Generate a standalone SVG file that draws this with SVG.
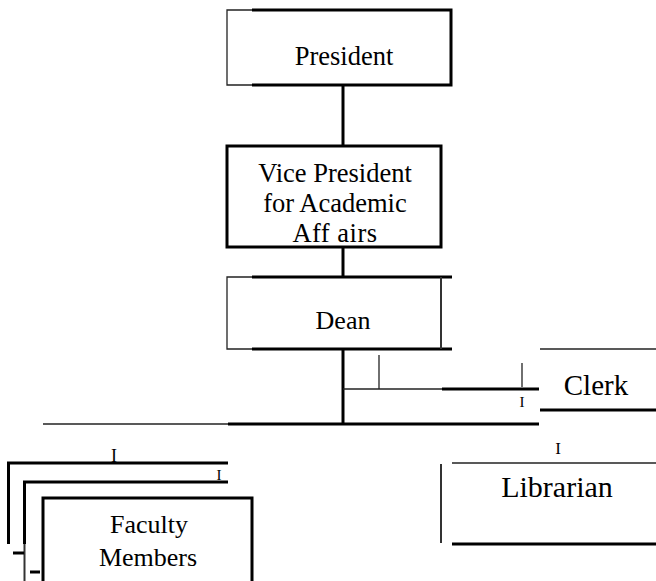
<svg xmlns="http://www.w3.org/2000/svg" width="656" height="581" viewBox="0 0 656 581">
<style>
.t{font-family:"Liberation Serif","Times New Roman",serif;fill:#000;text-anchor:middle}
.k{stroke:#000;stroke-width:3;fill:none}
.n{stroke:#222;stroke-width:1.3;fill:none}
.m{stroke:#333;stroke-width:2;fill:none}
.s{font-family:"Liberation Serif","Times New Roman",serif;fill:#000;text-anchor:middle}
</style>
<rect width="656" height="581" fill="#fff"/>
<g id="connectors">
<line class="k" x1="343" y1="85" x2="343" y2="146"/>
<line class="k" x1="343" y1="247" x2="343" y2="277"/>
<line class="k" x1="343" y1="349" x2="343" y2="424"/>
<line class="n" x1="379" y1="355" x2="379" y2="389"/>
<line class="n" x1="343" y1="389" x2="442" y2="389"/>
<line class="k" x1="442" y1="389" x2="539" y2="389"/>
<line class="n" x1="522" y1="363" x2="522" y2="387"/>
<line class="n" x1="43" y1="424" x2="228" y2="424"/>
<line class="k" x1="228" y1="424" x2="539" y2="424"/>
</g>
<g id="president">
<polyline class="n" points="252,10 227,10 227,85 252,85"/>
<polyline class="k" points="252,10 451,10 451,85 252,85"/>
<text class="t" x="344" y="65" font-size="26.5">President</text>
</g>
<g id="vp">
<rect class="k" x="227" y="146" width="214" height="101"/>
<text class="t" x="335" y="182" font-size="26.5">Vice President</text>
<text class="t" x="335" y="212" font-size="26.5">for Academic</text>
<text class="t" x="335" y="242" font-size="26.5" letter-spacing="0.5">Aff airs</text>
</g>
<g id="dean">
<polyline class="n" points="252,277 227,277 227,349 252,349"/>
<line class="k" x1="252" y1="277" x2="452" y2="277"/>
<line class="k" x1="252" y1="349" x2="452" y2="349"/>
<line class="m" x1="441" y1="277" x2="441" y2="349"/>
<text class="t" x="343" y="329" font-size="26">Dean</text>
</g>
<g id="clerk">
<line class="n" x1="540" y1="349" x2="656" y2="349"/>
<line class="k" x1="540" y1="410" x2="656" y2="410"/>
<text class="t" x="596" y="395" font-size="29">Clerk</text>
<text class="s" x="522" y="407" font-size="15">I</text>
</g>
<g id="librarian">
<line class="n" x1="452" y1="463" x2="656" y2="463"/>
<line class="k" x1="452" y1="544" x2="656" y2="544"/>
<line class="m" x1="441" y1="464" x2="441" y2="543"/>
<text class="t" x="557" y="497" font-size="30">Librarian</text>
<text class="s" x="558" y="454" font-size="17">I</text>
</g>
<g id="faculty">
<polyline class="k" points="8.5,544 8.5,463 228,463"/>
<polyline class="k" points="24.5,544 24.5,482 228,482"/>
<line class="m" x1="24.5" y1="544" x2="24.5" y2="581"/>
<line class="k" x1="13" y1="553" x2="24" y2="553"/>
<line class="k" x1="30" y1="572" x2="40" y2="572"/>
<polyline class="k" points="43,581 43,498 252,498 252,581"/>
<text class="t" x="149" y="533" font-size="26">Faculty</text>
<text class="t" x="148" y="566" font-size="26">Members</text>
<text class="s" x="114" y="462" font-size="18">I</text>
<text class="s" x="219" y="480" font-size="15">I</text>
</g>
</svg>
